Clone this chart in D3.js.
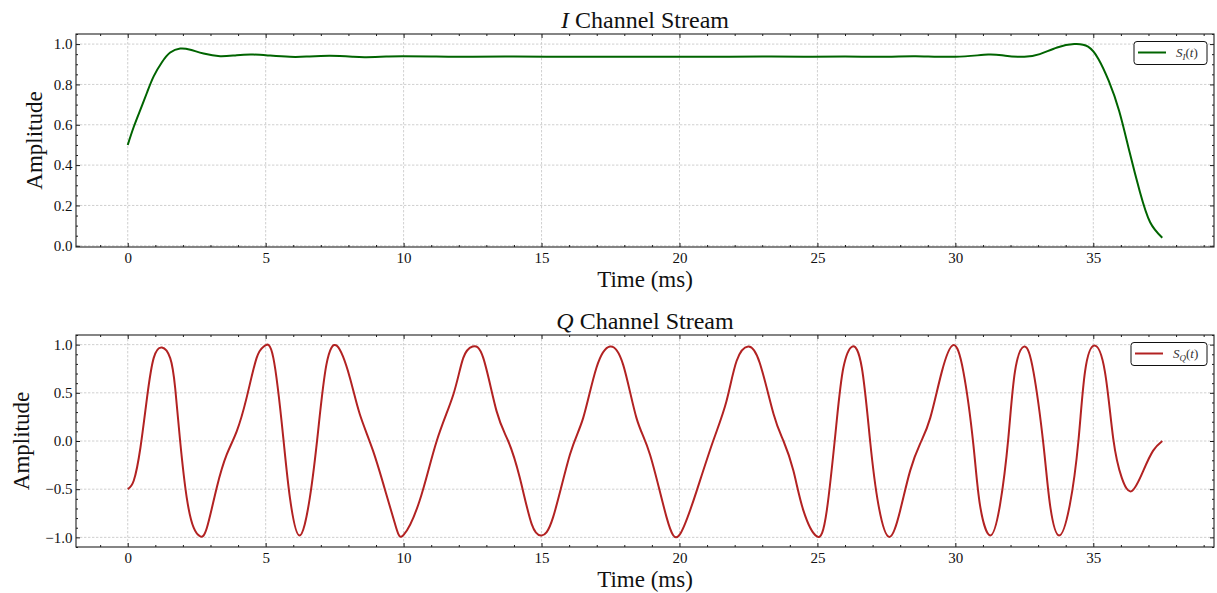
<!DOCTYPE html>
<html>
<head>
<meta charset="utf-8">
<script src="https://cdn.jsdelivr.net/npm/d3@7"></script>
<style>
  html, body { margin: 0; padding: 0; background: #fff; }
  svg { display: block; font-family: "Liberation Serif", "DejaVu Serif", serif; }
</style>
</head>
<body>
<svg id="chart" width="1217" height="593"></svg>
<script>
// ---------------- data ----------------
const timeI = [0, 0.22, 0.46, 0.70, 0.94, 1.24, 1.54, 1.90, 2.27, 2.75, 3.35, 3.95, 4.55, 5.16, 5.88, 6.48, 7.33, 8.17, 8.65, 9.37, 9.98, 11.18, 12.5, 14, 15.5, 17, 18.5, 20, 21.5, 23, 24.5, 26, 27.5, 28.56, 30.0, 31.19, 31.81, 32.5, 33.06, 33.69, 34.31, 34.81, 35.19, 35.56, 35.94, 36.31, 36.69, 37.06, 37.5];
const ampI  = [0.50, 0.59, 0.675, 0.76, 0.84, 0.91, 0.958, 0.978, 0.972, 0.953, 0.940, 0.945, 0.948, 0.943, 0.937, 0.938, 0.942, 0.937, 0.935, 0.938, 0.940, 0.938, 0.937, 0.938, 0.937, 0.937, 0.937, 0.937, 0.937, 0.938, 0.937, 0.938, 0.937, 0.940, 0.937, 0.948, 0.942, 0.937, 0.950, 0.983, 1.0, 0.987, 0.925, 0.817, 0.667, 0.467, 0.267, 0.117, 0.04];

const timeQ = [0, 0.22, 0.46, 0.70, 0.94, 1.24, 1.54, 1.72, 1.90, 2.14, 2.39, 2.63, 2.87, 3.23, 3.59, 3.95, 4.31, 4.67, 4.95, 5.28, 5.64, 5.88, 6.22, 6.60, 6.90, 7.20, 7.59, 8.05, 8.41, 8.89, 9.37, 9.73, 10.0, 10.58, 11.20, 11.80, 12.16, 12.50, 12.89, 13.37, 13.79, 14.21, 14.64, 15.0, 15.42, 16.03, 16.51, 16.99, 17.48, 17.96, 18.44, 18.93, 19.53, 20.0, 20.62, 21.22, 21.70, 22.07, 22.49, 22.91, 23.41, 23.77, 24.13, 24.49, 24.98, 25.34, 25.70, 25.94, 26.26, 26.61, 26.91, 27.21, 27.60, 28.0, 28.36, 28.72, 29.09, 29.51, 29.92, 30.29, 30.65, 30.89, 31.26, 31.62, 31.92, 32.16, 32.50, 32.83, 33.19, 33.43, 33.76, 34.15, 34.46, 34.70, 35.04, 35.42, 35.72, 36.03, 36.39, 36.81, 37.17, 37.5];
const ampQ  = [-0.5, -0.41, -0.07, 0.45, 0.86, 0.97, 0.86, 0.55, 0.0, -0.59, -0.90, -0.99, -0.90, -0.48, -0.14, 0.10, 0.45, 0.86, 0.985, 0.86, 0.03, -0.59, -0.98, -0.59, 0.10, 0.79, 0.985, 0.66, 0.28, -0.10, -0.55, -0.90, -0.975, -0.62, 0.0, 0.48, 0.86, 0.98, 0.86, 0.31, 0.0, -0.38, -0.86, -0.98, -0.79, -0.14, 0.24, 0.76, 0.98, 0.79, 0.24, -0.14, -0.79, -0.975, -0.52, 0.0, 0.41, 0.83, 0.98, 0.81, 0.28, 0.0, -0.31, -0.72, -0.99, -0.72, 0.21, 0.76, 0.98, 0.76, 0.0, -0.66, -0.995, -0.72, -0.31, -0.03, 0.24, 0.72, 0.995, 0.72, -0.03, -0.66, -0.98, -0.66, 0.03, 0.72, 0.98, 0.72, -0.03, -0.66, -0.98, -0.66, 0.0, 0.72, 0.99, 0.72, 0.03, -0.38, -0.52, -0.31, -0.10, 0.0];

const xTicks = [0, 5, 10, 15, 20, 25, 30, 35];
const yTicksI = [0.0, 0.2, 0.4, 0.6, 0.8, 1.0];
const yTicksQ = [-1.0, -0.5, 0.0, 0.5, 1.0];

// ---------------- layout ----------------
const svg = d3.select("#chart");
const L = 76, R = 1214;
const panels = [
  { top: 34, bottom: 247, t: timeI, v: ampI, yDomain: [-0.006, 1.05], yTicks: yTicksI, yMinorStep: 0.05,
    color: "#006400", titleVar: "I", sub: "I", ylabX: 42, legW: 73 },
  { top: 335, bottom: 547, t: timeQ, v: ampQ, yDomain: [-1.1, 1.1], yTicks: yTicksQ, yMinorStep: 0.1,
    color: "#B22222", titleVar: "Q", sub: "Q", ylabX: 29, legW: 76 }
];

const x = d3.scaleLinear().domain([-1.875, 39.375]).range([L, R]);
const xMinor = d3.range(-1, 40, 1).filter(d => d % 5 !== 0);
const fmt = d3.format(".1f");

panels.forEach(p => {
  const y = d3.scaleLinear().domain(p.yDomain).range([p.bottom, p.top]);
  const g = svg.append("g");
  const yMinor = d3.range(Math.ceil(p.yDomain[0] / p.yMinorStep), Math.floor(p.yDomain[1] / p.yMinorStep) + 1)
      .map(k => +(k * p.yMinorStep).toFixed(3))
      .filter(d => !p.yTicks.some(t => Math.abs(t - d) < 1e-6));

  // grid
  const grid = g.append("g").attr("stroke", "#c4c4c4").attr("stroke-width", 0.8).attr("stroke-dasharray", "2.4,1.6");
  grid.selectAll(".gx").data(xTicks).join("line")
    .attr("x1", d => x(d)).attr("x2", d => x(d)).attr("y1", p.top).attr("y2", p.bottom);
  grid.selectAll(".gy").data(p.yTicks).join("line")
    .attr("x1", L).attr("x2", R).attr("y1", d => y(d)).attr("y2", d => y(d));

  // line
  const line = d3.line().x((d, i) => x(p.t[i])).y(d => y(d)).curve(d3.curveNatural);
  g.append("path").datum(p.v).attr("d", line)
    .attr("fill", "none").attr("stroke", p.color).attr("stroke-width", 2).attr("stroke-linejoin", "round");

  // axes (inward ticks on all sides)
  const mk = (axis, tr, labels) => {
    const a = g.append("g").attr("transform", tr).call(axis);
    a.select(".domain").remove();
    a.selectAll("line").attr("stroke", "#000").attr("stroke-width", 0.9);
    a.selectAll("text").attr("font-family", "Liberation Serif, DejaVu Serif, serif")
      .attr("font-size", 15).attr("fill", "#111");
    if (!labels) a.selectAll("text").remove();
    return a;
  };
  mk(d3.axisBottom(x).tickValues(xTicks).tickSize(-4).tickPadding(5).tickFormat(d3.format("d")), `translate(0,${p.bottom})`, true);
  mk(d3.axisBottom(x).tickValues(xMinor).tickSize(-2).tickFormat(""), `translate(0,${p.bottom})`, false);
  mk(d3.axisTop(x).tickValues(xTicks).tickSize(-4).tickFormat(""), `translate(0,${p.top})`, false);
  mk(d3.axisTop(x).tickValues(xMinor).tickSize(-2).tickFormat(""), `translate(0,${p.top})`, false);
  mk(d3.axisLeft(y).tickValues(p.yTicks).tickSize(-4).tickPadding(3.5).tickFormat(fmt), `translate(${L},0)`, true);
  mk(d3.axisLeft(y).tickValues(yMinor).tickSize(-2).tickFormat(""), `translate(${L},0)`, false);
  mk(d3.axisRight(y).tickValues(p.yTicks).tickSize(-4).tickFormat(""), `translate(${R},0)`, false);
  mk(d3.axisRight(y).tickValues(yMinor).tickSize(-2).tickFormat(""), `translate(${R},0)`, false);

  // frame
  g.append("rect").attr("x", L).attr("y", p.top).attr("width", R - L).attr("height", p.bottom - p.top)
    .attr("fill", "none").attr("stroke", "#222").attr("stroke-width", 1.1);

  // title
  const title = g.append("text").attr("x", (L + R) / 2).attr("y", p.top - 6.5)
    .attr("text-anchor", "middle").attr("font-size", 24).attr("fill", "#111");
  title.append("tspan").attr("font-style", "italic").text(p.titleVar);
  title.append("tspan").text(" Channel Stream");

  // axis labels
  g.append("text").attr("x", (L + R) / 2).attr("y", p.bottom + 40)
    .attr("text-anchor", "middle").attr("font-size", 23).attr("fill", "#111").text("Time (ms)");
  g.append("text").attr("transform", `translate(${p.ylabX},${(p.top + p.bottom) / 2}) rotate(-90)`)
    .attr("text-anchor", "middle").attr("font-size", 23).attr("fill", "#111").text("Amplitude");

  // legend
  const lx = R - 7 - p.legW, ly = p.top + 7.5;
  const leg = g.append("g");
  leg.append("rect").attr("x", lx).attr("y", ly).attr("width", p.legW).attr("height", 23).attr("rx", 3)
    .attr("fill", "#fff").attr("stroke", "#111").attr("stroke-width", 1);
  leg.append("line").attr("x1", lx + 4).attr("x2", lx + 32).attr("y1", ly + 11).attr("y2", ly + 11)
    .attr("stroke", p.color).attr("stroke-width", 2);
  const lt = leg.append("text").attr("x", lx + 42).attr("y", ly + 15.5).attr("font-size", 13).attr("fill", "#333");
  lt.append("tspan").attr("font-style", "italic").text("S");
  lt.append("tspan").attr("font-style", "italic").attr("font-size", 9).attr("dy", 3).text(p.sub);
  lt.append("tspan").attr("dy", -3).text("(");
  lt.append("tspan").attr("font-style", "italic").text("t");
  lt.append("tspan").text(")");
});
</script>
</body>
</html>
